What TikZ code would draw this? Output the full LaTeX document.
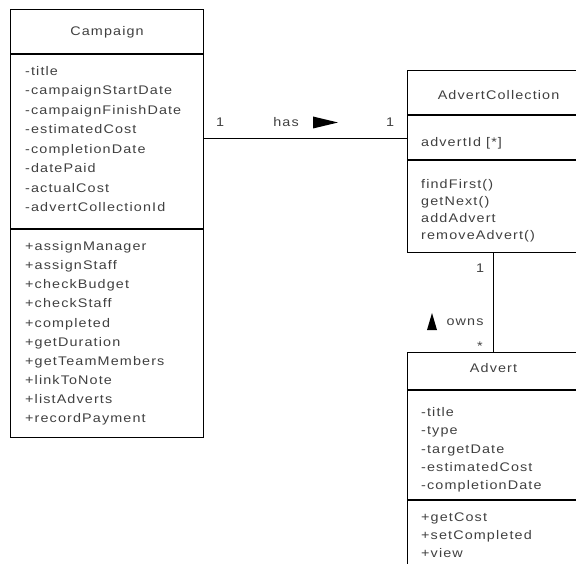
\documentclass[tikz,border=0pt]{standalone}
\usepackage{fontspec}
\setmainfont{Liberation Sans}[FakeStretch=1.15,LetterSpace=9]
\begin{document}
\begin{tikzpicture}[x=1pt,y=-1pt,
  classbox/.style={draw=black,line width=1.1pt,inner sep=0pt,anchor=north west},
  sep/.style={draw=black,line width=1.1pt},
  assoc/.style={draw=black,line width=1pt},
  lbl/.style={font=\fontsize{12.5}{15}\selectfont,text=black!75,inner sep=0pt},
  dirmark/.style={fill=black}]
\useasboundingbox (0,0) rectangle (576,564);
\clip (0,0) rectangle (576,564);

% class boxes
\node[classbox,minimum width=193,minimum height=428] (campaign) at (10,9) {};
\node[classbox,minimum width=182,minimum height=182] (advcoll) at (407,70) {};
\node[classbox,minimum width=172,minimum height=260] (advert) at (407,352) {};

% compartment separators
\draw[sep] (campaign.west |- 0,54) -- (campaign.east |- 0,54);
\draw[sep] (campaign.west |- 0,229) -- (campaign.east |- 0,229);
\draw[sep] (advcoll.west |- 0,115) -- (advcoll.east |- 0,115);
\draw[sep] (advcoll.west |- 0,160) -- (advcoll.east |- 0,160);
\draw[sep] (advert.west |- 0,390) -- (advert.east |- 0,390);
\draw[sep] (advert.west |- 0,500) -- (advert.east |- 0,500);

% Campaign
\node[lbl,anchor=base] (campaignName) at (campaign.north |- 0,36) {Campaign};
\foreach \t [count=\i from 0] in {-title,-campaignStartDate,-campaignFinishDate,-estimatedCost,-completionDate,-datePaid,-actualCost,-advertCollectionId}
  \node[lbl,anchor=base west] (ca\i) at (25,{75.5+19.5*\i}) {\t};
\foreach \t [count=\i from 0] in {+assignManager,+assignStaff,+checkBudget,+checkStaff,+completed,+getDuration,+getTeamMembers,+linkToNote,+listAdverts,+recordPayment}
  \node[lbl,anchor=base west] (co\i) at (25,{251+19*\i}) {\t};

% AdvertCollection
\node[lbl,anchor=base] (advcollName) at (advcoll.north |- 0,99.5) {AdvertCollection};
\node[lbl,anchor=base west] (aca0) at (421,146.5) {advertId [*]};
\foreach \t [count=\i from 0] in {findFirst(),getNext(),addAdvert,removeAdvert()}
  \node[lbl,anchor=base west] (aco\i) at (421,{189+17*\i}) {\t};

% Advert
\node[lbl,anchor=base] (advertName) at (advert.north |- 0,372.5) {Advert};
\foreach \t [count=\i from 0] in {-title,-type,-targetDate,-estimatedCost,-completionDate}
  \node[lbl,anchor=base west] (aa\i) at (421,{416.5+18.3*\i}) {\t};
\foreach \t [count=\i from 0] in {+getCost,+setCompleted,+view}
  \node[lbl,anchor=base west] (ao\i) at (421,{521.5+18*\i}) {\t};

% association "has"
\draw[assoc] (campaign.east |- 0,139) -- (advcoll.west |- 0,139);
\node[lbl] (hasOne) at (220,122) {1};
\node[lbl] (hasName) at (286,122) {has};
\fill[dirmark] (313,116.5) -- (338,122.5) -- (313,128.5) -- cycle;
\node[lbl] (hasMany) at (390,122) {1};

% association "owns"
\draw[assoc] (advcoll.south -| 493,0) -- (advert.north -| 493,0);
\node[lbl] (ownsOne) at (480,268) {1};
\fill[dirmark] (427,330) -- (432,313) -- (437,330) -- cycle;
\node[lbl] (ownsName) at (465,322) {owns};
\node[lbl] (ownsMany) at (480,346) {*};
\end{tikzpicture}
\end{document}
